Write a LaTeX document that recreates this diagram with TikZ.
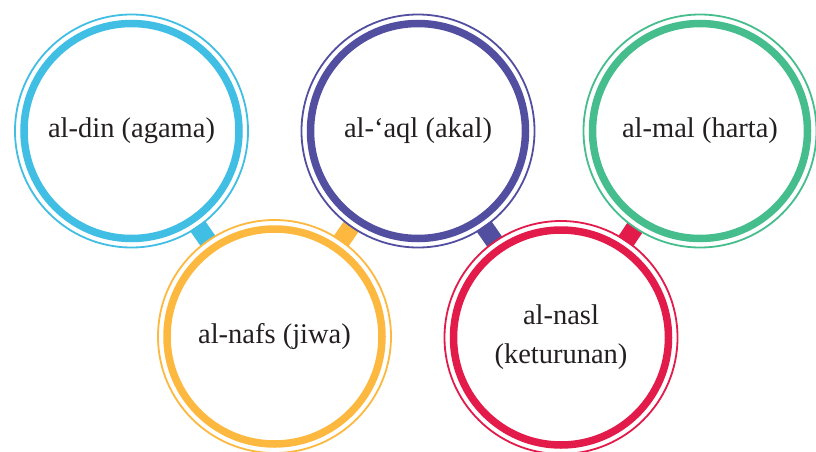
\documentclass[tikz,border=0pt]{standalone}
\usepackage{fontspec}
\setmainfont{Liberation Serif}
\usetikzlibrary{calc}
\definecolor{cblue}{HTML}{40BEE4}
\definecolor{cpurple}{HTML}{524FA1}
\definecolor{cgreen}{HTML}{45BD8C}
\definecolor{cyellow}{HTML}{FDB93F}
\definecolor{cred}{HTML}{E21B4A}
\definecolor{textgray}{HTML}{231F20}
\begin{document}
\begin{tikzpicture}[x=1pt,y=-1pt,
  lbl/.style={font=\fontsize{28.5}{39}\selectfont, text=textgray, align=center, inner sep=0pt},
  thickring/.style={line width=7.5pt},
  thinring/.style={line width=1.8pt},
  tabbar/.style={line width=18pt}]
\useasboundingbox (0,0) rectangle (816,452);
\fill[white] (0,0) rectangle (816,452);
\node[lbl] (din)  at (131.5,131) {al-din (agama)};
\node[lbl] (aql)  at (418,131)   {al-‘aql (akal)};
\node[lbl] (mal)  at (700,131)   {al-mal (harta)};
\node[lbl] (nafs) at (274.5,336.5) {al-nafs (jiwa)};
\node[lbl] (nasl) at (561,337.5)   {al-nasl\\(keturunan)};
% tabs between neighbouring rings
\draw[tabbar,cblue]   ($(din.center)!115.5pt!(nafs.center)$) -- ($(nafs.center)!116pt!(din.center)$);
\draw[tabbar,cyellow] ($(nafs.center)!115.5pt!(aql.center)$) -- ($(aql.center)!116pt!(nafs.center)$);
\draw[tabbar,cpurple] ($(aql.center)!115.5pt!(nasl.center)$) -- ($(nasl.center)!116pt!(aql.center)$);
\draw[tabbar,cred]    ($(nasl.center)!115.5pt!(mal.center)$) -- ($(mal.center)!116pt!(nasl.center)$);
% rings
\foreach \n/\c in {din/cblue, aql/cpurple, mal/cgreen, nafs/cyellow, nasl/cred}{
  \draw[thickring,\c] (\n.center) circle (107.5pt);
  \draw[thinring,\c]  (\n.center) circle (116.5pt);
}
\end{tikzpicture}
\end{document}
